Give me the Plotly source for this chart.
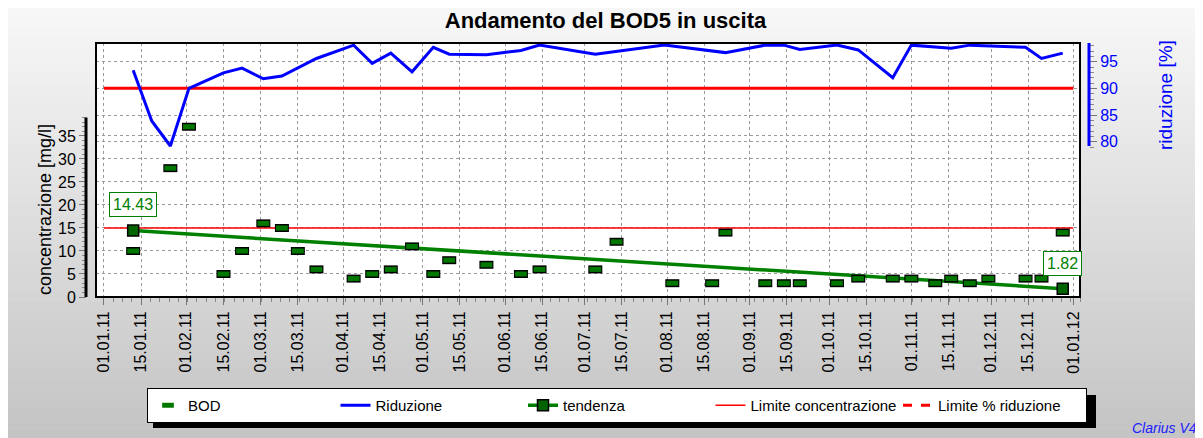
import plotly.graph_objects as go

# BOD in uscita [mg/l]
bod_dates = ['2011-01-12', '2011-01-26', '2011-02-02', '2011-02-15', '2011-02-22',
             '2011-03-02', '2011-03-09', '2011-03-15', '2011-03-22', '2011-04-05',
             '2011-04-12', '2011-04-19', '2011-04-27', '2011-05-05', '2011-05-11',
             '2011-05-25', '2011-06-07', '2011-06-14', '2011-07-05', '2011-07-13',
             '2011-08-03', '2011-08-18', '2011-08-23', '2011-09-07', '2011-09-14',
             '2011-09-20', '2011-10-04', '2011-10-12', '2011-10-25', '2011-11-01',
             '2011-11-10', '2011-11-16', '2011-11-23', '2011-11-30', '2011-12-14',
             '2011-12-20', '2011-12-28']
bod_values = [10, 28, 37, 5, 10, 16, 15, 10, 6, 4,
              5, 6, 11, 5, 8, 7, 5, 6, 6, 12,
              3, 3, 14, 3, 3, 3, 3, 4, 4, 4,
              3, 4, 3, 4, 4, 4, 14]

# riduzione [%]
rid_dates = ['2011-01-12', '2011-01-19', '2011-01-26', '2011-02-02', '2011-02-15',
             '2011-02-22', '2011-03-02', '2011-03-09', '2011-03-22', '2011-04-05',
             '2011-04-12', '2011-04-19', '2011-04-27', '2011-05-05', '2011-05-11',
             '2011-05-25', '2011-06-07', '2011-06-14', '2011-07-05', '2011-07-31',
             '2011-08-23', '2011-09-07', '2011-09-14', '2011-09-20', '2011-10-04',
             '2011-10-12', '2011-10-25', '2011-11-01', '2011-11-16', '2011-11-23',
             '2011-12-14', '2011-12-20', '2011-12-28']
rid_values = [93.4, 83.9, 79.2, 90.0, 92.9, 93.8, 91.8, 92.3, 95.6, 98.1,
              94.7, 96.6, 93.1, 97.7, 96.4, 96.3, 97.1, 98.1, 96.4, 98.1,
              96.7, 98.1, 98.1, 97.3, 98.1, 97.2, 92.0, 98.1, 97.5, 98.1,
              97.7, 95.6, 96.6]

# tendenza
trend_dates = ['2011-01-12', '2011-12-28']
trend_values = [14.43, 1.82]

# limiti
limit_dates = ['2011-01-01', '2012-01-01']
limit_conc = [15, 15]
limit_rid = [90, 90]

tick_dates = ['2011-01-01', '2011-01-15', '2011-02-01', '2011-02-15', '2011-03-01',
              '2011-03-15', '2011-04-01', '2011-04-15', '2011-05-01', '2011-05-15',
              '2011-06-01', '2011-06-15', '2011-07-01', '2011-07-15', '2011-08-01',
              '2011-08-15', '2011-09-01', '2011-09-15', '2011-10-01', '2011-10-15',
              '2011-11-01', '2011-11-15', '2011-12-01', '2011-12-15', '2012-01-01']
tick_labels = ['01.01.11', '15.01.11', '01.02.11', '15.02.11', '01.03.11',
               '15.03.11', '01.04.11', '15.04.11', '01.05.11', '15.05.11',
               '01.06.11', '15.06.11', '01.07.11', '15.07.11', '01.08.11',
               '15.08.11', '01.09.11', '15.09.11', '01.10.11', '15.10.11',
               '01.11.11', '15.11.11', '01.12.11', '15.12.11', '01.01.12']

FONT = 'Liberation Sans, Arial, sans-serif'
OFF = 8  # margine del body della pagina
W, H = 1203 - OFF, 438 - OFF
ML, MR, MT, MB = 86 - OFF, 114, 43 - OFF, 141
PW = W - ML - MR
PH = H - MT - MB


# coordinate in pixel della pagina -> paper
def px(x):
    return (x - OFF - ML) / PW


def py(y):
    return (H - MB - (y - OFF)) / PH


fig = go.Figure()

fig.add_trace(go.Scatter(x=limit_dates, y=limit_rid, yaxis='y2', mode='lines',
                         line=dict(color='#ff0000', width=3), showlegend=False))
fig.add_trace(go.Scatter(x=limit_dates, y=limit_conc, mode='lines', name='Limite concentrazione',
                         line=dict(color='#ff0000', width=1.5), legendrank=4))
fig.add_trace(go.Scatter(x=[None], y=[None], yaxis='y2', mode='lines', name='Limite % riduzione',
                         line=dict(color='#ff0000', width=3, dash='dash'), legendrank=5))
fig.add_trace(go.Scatter(x=rid_dates, y=rid_values, yaxis='y2', mode='lines', name='Riduzione',
                         line=dict(color='#0000ff', width=3), legendrank=2))
fig.add_trace(go.Scatter(x=trend_dates, y=trend_values, mode='lines+markers', name='tendenza',
                         line=dict(color='#008000', width=3.5),
                         marker=dict(symbol='square', size=11, color='#006400',
                                     line=dict(color='black', width=1.5)),
                         legendrank=3))
# BOD: rettangolini verdi con bordo nero
fig.add_trace(go.Scatter(x=bod_dates, y=bod_values, mode='markers', showlegend=False,
                         marker=dict(symbol='line-ew', size=10, color='black',
                                     line=dict(color='black', width=8))))
fig.add_trace(go.Scatter(x=bod_dates, y=bod_values, mode='markers', name='BOD',
                         marker=dict(symbol='line-ew', size=8.4, color='#007800',
                                     line=dict(color='#007800', width=5)),
                         legendrank=1))

shapes = []
# sfondo sfumato
n = 44
for i in range(n):
    y0 = OFF + (438 - OFF) * i / n
    y1 = OFF + (438 - OFF) * (i + 1) / n
    g = int(248 - (248 - 196) * (i + 0.5) / n)
    shapes.append(dict(type='rect', xref='paper', yref='paper', x0=px(OFF), x1=px(1203),
                       y0=py(y1 + 0.5), y1=py(y0), line=dict(width=0),
                       fillcolor=f'rgb({g},{g},{g})', layer='below'))
shapes.append(dict(type='rect', xref='x domain', yref='paper', x0=0, x1=1, y0=0, y1=1,
                   line=dict(width=0), fillcolor='white', layer='below'))
# ombra legenda
shapes.append(dict(type='rect', xref='paper', yref='paper', x0=px(153), x1=px(1096),
                   y0=py(428), y1=py(395), line=dict(width=0), fillcolor='black', layer='below'))
# bordo area grafico
shapes.append(dict(type='rect', xref='x domain', yref='paper', x0=0, x1=1, y0=0, y1=1,
                   line=dict(color='black', width=2), layer='above'))
# assi verticali
shapes.append(dict(type='line', xref='paper', yref='y', x0=0, x1=0, y0=0, y1=39,
                   line=dict(color='black', width=3)))
shapes.append(dict(type='line', xref='paper', yref='y2', x0=1, x1=1, y0=79.2, y1=98.5,
                   line=dict(color='#0000ff', width=3)))

annotations = [
    dict(x=trend_dates[0], y=trend_values[0], xref='x', yref='y', text=f'{trend_values[0]:.2f}',
         showarrow=False, yshift=26, bgcolor='white', bordercolor='#008000', borderwidth=1,
         borderpad=3, font=dict(family=FONT, size=16, color='#008000')),
    dict(x=trend_dates[-1], y=trend_values[-1], xref='x', yref='y', text=f'{trend_values[-1]:.2f}',
         showarrow=False, yshift=25, bgcolor='white', bordercolor='#008000', borderwidth=1,
         borderpad=3, font=dict(family=FONT, size=16, color='#008000')),
    dict(x=px(45), y=py(210), xref='paper', yref='paper', text='concentrazione [mg/l]',
         xanchor='center', yanchor='middle',
         textangle=-90, showarrow=False, font=dict(family=FONT, size=18, color='black')),
    dict(x=px(1165), y=py(95), xref='paper', yref='paper', text='riduzione [%]',
         xanchor='center', yanchor='middle',
         textangle=-90, showarrow=False, font=dict(family=FONT, size=19, color='#0000ff')),
    dict(x=px(1199), y=py(428), xref='paper', yref='paper', text='<i>Clarius V4</i>',
         xanchor='right', yanchor='middle', showarrow=False,
         font=dict(family=FONT, size=14, color='#2020ff')),
]

fig.update_layout(
    width=W, height=H,
    margin=dict(l=ML, r=MR, t=MT, b=MB, autoexpand=False),
    paper_bgcolor='white',
    plot_bgcolor='rgba(0,0,0,0)',
    font=dict(family=FONT, size=16, color='black'),
    title=dict(text='<b>Andamento del BOD5 in uscita</b>', x=0.5, xanchor='center',
               xref='container', y=1 - (20 - OFF) / H, yanchor='middle', yref='container',
               font=dict(family=FONT, size=22, color='black')),
    xaxis=dict(
        type='date', domain=[px(96), px(1080)],
        range=['2010-12-29', '2012-01-03 12:00'],
        tickmode='array', tickvals=tick_dates, ticktext=tick_labels,
        tickangle=-90, tickfont=dict(size=16),
        ticks='outside', ticklen=7, tickcolor='#777777',
        showgrid=True, gridcolor='#9a9a9a', griddash='dot', gridwidth=1,
        showline=False, zeroline=False, automargin=False,
        minor=dict(ticks='outside', ticklen=4, tickcolor='#888888',
                   dtick=3.5 * 86400000, tick0='2011-01-01', showgrid=False),
    ),
    yaxis=dict(
        range=[0, 55.2], anchor='free', position=0,
        tickmode='array', tickvals=[0, 5, 10, 15, 20, 25, 30, 35],
        ticks='outside', ticklen=7, tickcolor='#777777', tickfont=dict(size=16),
        showgrid=True, gridcolor='#9a9a9a', griddash='dot', gridwidth=1,
        showline=False, zeroline=False, automargin=False,
        minor=dict(tickmode='array', tickvals=list(range(0, 40)), ticks='outside',
                   ticklen=4, tickcolor='#888888', showgrid=False),
    ),
    yaxis2=dict(
        range=[50.9, 98.5], overlaying='y', side='right', anchor='free', position=1,
        tickmode='array', tickvals=[80, 85, 90, 95],
        ticks='outside', ticklen=7, tickcolor='#777777',
        tickfont=dict(size=16, color='#0000ff'),
        showgrid=True, gridcolor='#9a9a9a', griddash='dot', gridwidth=1,
        showline=False, zeroline=False, automargin=False,
        minor=dict(tickmode='array', tickvals=list(range(79, 99)), ticks='outside',
                   ticklen=4, tickcolor='#888888', showgrid=False),
    ),
    legend=dict(
        orientation='h', x=px(147), y=py(388), xanchor='left', yanchor='top',
        bgcolor='white', bordercolor='black', borderwidth=1,
        entrywidth=142.5, entrywidthmode='pixels', itemwidth=30,
        font=dict(family=FONT, size=15, color='black'),
    ),
    shapes=shapes,
    annotations=annotations,
    showlegend=True,
)

fig.write_html("out.html")
